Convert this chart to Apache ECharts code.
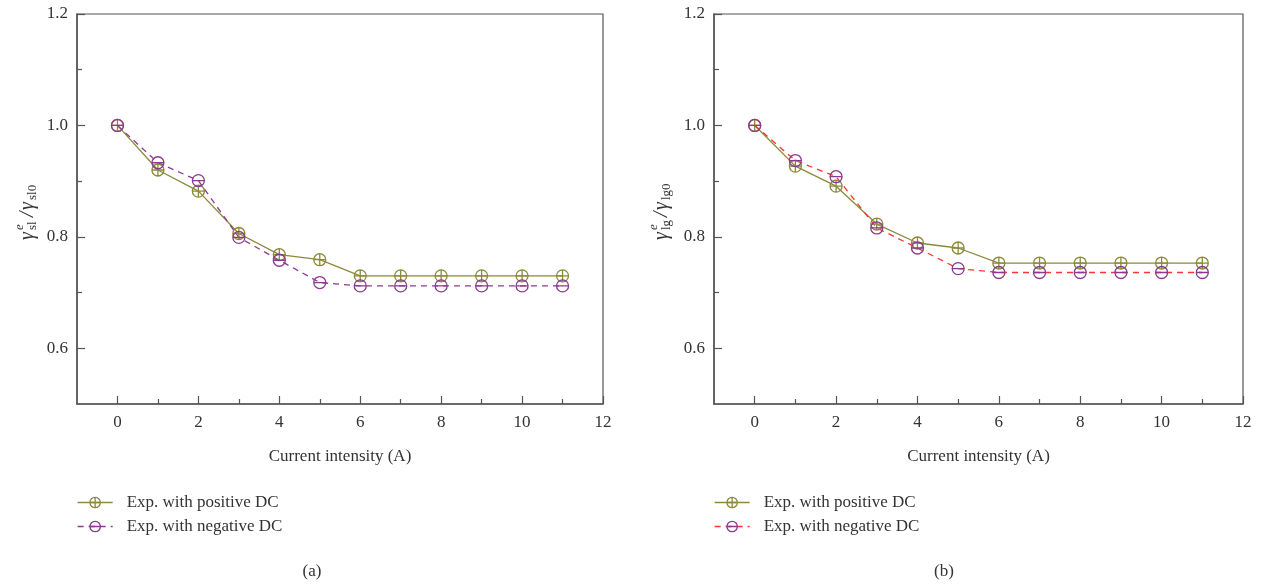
<!DOCTYPE html>
<html>
<head>
<meta charset="utf-8">
<script src="https://cdn.jsdelivr.net/npm/echarts@6/dist/echarts.min.js"></script>
<style>
  html, body { margin: 0; padding: 0; background: #fff; }
  #chart { width: 1264px; height: 586px; }
</style>
</head>
<body>
<div id="chart"></div>
<script>
// data
var currents = [0, 1, 2, 3, 4, 5, 6, 7, 8, 9, 10, 11];
var slPositive = [1.000, 0.920, 0.882, 0.806, 0.768, 0.759, 0.730, 0.730, 0.730, 0.730, 0.730, 0.730];
var slNegative = [1.000, 0.933, 0.901, 0.799, 0.758, 0.718, 0.712, 0.712, 0.712, 0.712, 0.712, 0.712];
var lgPositive = [1.000, 0.927, 0.891, 0.823, 0.789, 0.780, 0.753, 0.753, 0.753, 0.753, 0.753, 0.753];
var lgNegative = [1.000, 0.937, 0.908, 0.816, 0.780, 0.743, 0.736, 0.736, 0.736, 0.736, 0.736, 0.736];

var xMajorTicks = [0, 2, 4, 6, 8, 10, 12];
var xMinorTicks = [1, 3, 5, 7, 9, 11];
var yMajorTicks = [0.6, 0.8, 1.0, 1.2];
var yMinorTicks = [0.7, 0.9, 1.1];

var legendNames = ['Exp. with positive DC', 'Exp. with negative DC'];

var FONT = 'Liberation Serif';
var OLIVE = '#8a8a3a';
var PURPLE = '#8b3a8e';
var RED = '#ff3333';
var AXIS = '#555';

var plusMark = 'path://M0,-10A10,10,0,1,1,0,10A10,10,0,1,1,0,-10ZM-10,0L10,0M0,-10L0,10';
var minusMark = 'path://M0,-10A10,10,0,1,1,0,10A10,10,0,1,1,0,-10ZM-10,0L10,0';

function pairs(ys) {
    return currents.map(function (x, i) { return [x, ys[i]]; });
}

function mainX(grid) {
    return {
        gridIndex: grid, type: 'value', min: -1, max: 12, interval: 1, position: 'bottom',
        name: 'Current intensity (A)', nameLocation: 'middle', nameGap: 44,
        nameTextStyle: { fontFamily: FONT, fontSize: 17, color: '#333' },
        axisLine: { show: true, onZero: false, lineStyle: { color: AXIS, width: 1.5 } },
        axisTick: { show: true, inside: true, length: 8, customValues: xMajorTicks, lineStyle: { color: AXIS, width: 1.2 } },
        axisLabel: { customValues: xMajorTicks, fontFamily: FONT, fontSize: 17, color: '#333', margin: 10 },
        splitLine: { show: false }
    };
}
function minorX(grid) {
    return {
        gridIndex: grid, type: 'value', min: -1, max: 12, interval: 1, position: 'bottom',
        axisLine: { show: false, onZero: false },
        axisTick: { show: true, inside: true, length: 5, customValues: xMinorTicks, lineStyle: { color: AXIS, width: 1.2 } },
        axisLabel: { show: false },
        splitLine: { show: false }
    };
}
function mainY(grid) {
    return {
        gridIndex: grid, type: 'value', min: 0.5, max: 1.2, interval: 0.1, position: 'left',
        axisLine: { show: true, onZero: false, lineStyle: { color: AXIS, width: 1.5 } },
        axisTick: { show: true, inside: true, length: 8, customValues: yMajorTicks, lineStyle: { color: AXIS, width: 1.2 } },
        axisLabel: {
            customValues: yMajorTicks, fontFamily: FONT, fontSize: 17, color: '#333', margin: 9,
            formatter: function (v) { return v.toFixed(1); }
        },
        splitLine: { show: false }
    };
}
function minorY(grid) {
    return {
        gridIndex: grid, type: 'value', min: 0.5, max: 1.2, interval: 0.1, position: 'left',
        axisLine: { show: false, onZero: false },
        axisTick: { show: true, inside: true, length: 5, customValues: yMinorTicks, lineStyle: { color: AXIS, width: 1.2 } },
        axisLabel: { show: false },
        splitLine: { show: false }
    };
}

function makeSeries(name, ys, axisIdx, lineColor, lineType, mark, markColor) {
    return {
        name: name, type: 'line', xAxisIndex: axisIdx, yAxisIndex: axisIdx,
        data: pairs(ys),
        symbol: mark, symbolSize: 12,
        itemStyle: { color: 'rgba(0,0,0,0)', borderColor: markColor, borderWidth: 1.3 },
        lineStyle: { color: lineColor, width: 1.3, type: lineType },
        emphasis: { disabled: true },
        animation: false
    };
}

function legendFor(left, names) {
    return {
        orient: 'vertical', left: left, top: 494, padding: 0,
        itemWidth: 35, itemHeight: 13, itemGap: 7,
        data: names,
        itemStyle: { borderWidth: 1.3 },
        lineStyle: { width: 1.3 },
        formatter: function (n) { return n.replace(/ \(.\)$/, ''); },
        textStyle: { fontFamily: FONT, fontSize: 17, color: '#333', padding: [0, 0, 0, 9] }
    };
}

// rotated y-axis name built from pieces so the sup/sub stack
function yName(x, y, sub, sub0) {
    var main = 'italic 20px "' + FONT + '"';
    var small = '13px "' + FONT + '"';
    var smallIt = 'italic 13px "' + FONT + '"';
    function t(text, lx, ly, font) {
        return { type: 'text', x: lx, y: ly, style: { text: text, font: font, fill: '#333', verticalAlign: 'middle' } };
    }
    return {
        type: 'group', x: x, y: y, rotation: Math.PI / 2,
        children: [
            t('\u03b3', 0, 0, main),
            t('e', 10, -8, smallIt),
            t(sub, 10, 5, small),
            t('/', 23, 0, main),
            t('\u03b3', 30, 0, main),
            t(sub0, 40, 5, small)
        ]
    };
}

var chart = echarts.init(document.getElementById('chart'));
var option = {
    backgroundColor: '#fff',
    animation: false,
    grid: [
        { left: 77, width: 526, top: 14, height: 390, show: true, borderColor: AXIS, borderWidth: 1.2 },
        { left: 714, width: 529, top: 14, height: 390, show: true, borderColor: AXIS, borderWidth: 1.2 }
    ],
    xAxis: [mainX(0), minorX(0), mainX(1), minorX(1)],
    yAxis: [mainY(0), minorY(0), mainY(1), minorY(1)],
    legend: [
        legendFor(77, [legendNames[0] + ' (a)', legendNames[1] + ' (a)']),
        legendFor(714, [legendNames[0] + ' (b)', legendNames[1] + ' (b)'])
    ],
    series: [
        makeSeries(legendNames[0] + ' (a)', slPositive, 0, OLIVE, 'solid', plusMark, OLIVE),
        makeSeries(legendNames[1] + ' (a)', slNegative, 0, PURPLE, [6, 5], minusMark, PURPLE),
        makeSeries(legendNames[0] + ' (b)', lgPositive, 2, OLIVE, 'solid', plusMark, OLIVE),
        makeSeries(legendNames[1] + ' (b)', lgNegative, 2, RED, [6, 5], minusMark, PURPLE)
    ],
    graphic: [
        yName(28, 240, 'sl', 'sl0'),
        yName(662, 240, 'lg', 'lg0'),
        { type: 'text', x: 312, y: 572, style: { text: '(a)', font: '17px "' + FONT + '"', fill: '#333', align: 'center', verticalAlign: 'middle' } },
        { type: 'text', x: 944, y: 572, style: { text: '(b)', font: '17px "' + FONT + '"', fill: '#333', align: 'center', verticalAlign: 'middle' } }
    ]
};
chart.setOption(option);
</script>
</body>
</html>
